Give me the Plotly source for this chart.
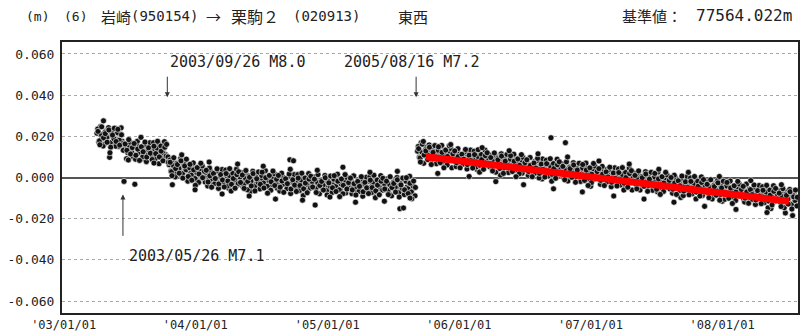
import pandas as pd
import plotly.graph_objects as go

# ---------------- data (east-west component) ----------------
# series A: metres, every 5 days
seg1_start = "2003-03-15"
seg1_values = [
    0.0215, 0.0172, 0.0248, 0.0189, 0.0161, 0.0226, 0.0197, 0.0098, 0.0205, 0.0172,
    0.0239, 0.0183, 0.0151, 0.0210, 0.0176, -0.0019,
    0.0148, 0.0121, 0.0165, 0.0134, 0.0102, -0.0033, 0.0157, 0.0119, 0.0138, 0.0091,
    0.0146, 0.0127, 0.0109, 0.0152, 0.0131, 0.0096, 0.0139, 0.0118, 0.0164, 0.0125,
    0.0103, 0.0141, 0.0112, 0.0079,
    0.0062, 0.0031, 0.0085, 0.0047, 0.0018, 0.0069, 0.0042, 0.0009, 0.0056, 0.0033,
    -0.0012, 0.0048, 0.0021, 0.0064, 0.0005, 0.0037, -0.0018, 0.0026, 0.0008,
    0.0041, -0.0022, 0.0013, -0.0006, 0.0029, -0.0035, 0.0002, -0.0014, 0.0036, -0.0041,
    -0.0003, 0.0017, -0.0028, 0.0009, -0.0052, -0.0011, 0.0024, -0.0019, 0.0004, -0.0037,
    -0.0008, 0.0015, -0.0046, -0.0013, 0.0011, -0.0024, -0.0068, -0.0002, -0.0031, 0.0019,
    -0.0017, -0.0039, -0.0006, 0.0021, -0.0027, -0.0012, -0.0045,
    -0.0009, -0.0034, 0.0007, -0.0021, -0.0052, -0.0016, -0.0038, 0.0003, -0.0029, -0.0011,
    -0.0047, 0.0086, -0.0023, 0.0081, -0.0036, -0.0014, -0.0058, -0.0027, -0.0005, -0.0041,
    -0.0019, -0.0063, -0.0032, -0.0008, -0.0045, -0.0134, -0.0026, -0.0039, -0.0012, -0.0054,
    -0.0031, -0.0017, -0.0048, -0.0024, -0.0066, -0.0035, -0.0009, -0.0043, -0.0028, -0.0057,
    -0.0019, -0.0038, -0.0075, -0.0029, -0.0046, -0.0014, -0.0052, -0.0033, -0.0061, -0.0022,
    -0.0044, -0.0027, -0.0069, -0.0036, -0.0051,
    -0.0018, -0.0047, -0.0032, -0.0071, -0.0025, -0.0054, -0.0039, -0.0013, -0.0062, -0.0044,
    -0.0028, -0.0076, -0.0035, -0.0051, -0.0021, -0.0067, -0.0042, -0.0152, -0.0058, -0.0148,
    -0.0083, -0.0046, -0.0024, -0.0061, -0.0039, -0.0049,
]

# series A, further daily solutions (millimetres)
seg1_b_start = "2003-03-17"
seg1_b_mm = [
    23.5, 17.8, 20.8, 15.3, 21.9, 19.5, 24.2, 16.9, 21.4, 18.8,
    15.2, 21.7, 18.1, 24.1, 16.5, 13.8, 9.1, 15.7, 17.1, 11.9,
    15.4, 8.9, 17.6, 12.3, 14.3, 10.1, 16.1, 7.7, 13.6, 16.9,
    11.0, 16.9, 9.2, 14.2, 6.7, 15.3, 12.2, 17.4, 10.4, 10.0,
    8.5, 2.8, 5.8, 0.3, 6.9, 4.5, 9.2, 1.9, 6.4, 3.8,
    -1.8, 4.7, 1.1, 7.1, -0.5, 2.3, -2.4, 4.2, 5.6, 0.4,
    2.4, -4.1, 4.6, -0.7, 1.3, -2.9, 3.1, -5.3, 0.6, 3.9,
    -2.3, 3.6, -4.1, 0.9, -6.6, 2.0, -1.1, 4.1, -2.9, 0.2,
    2.3, -3.4, -0.4, -5.9, 0.7, -1.7, 3.0, -4.3, 0.2, -2.4,
    -5.6, 0.9, -2.7, 3.3, -4.3, -1.5, -6.2, 0.4, 1.8, -3.4,
    -0.1, -6.6, 2.1, -3.2, -1.2, -5.4, 0.6, -7.8, -1.9, 1.4,
    -4.5, 1.4, -6.3, -1.3, -8.8, -0.2, -3.3, 1.9, -5.1, -2.0,
    0.3, -5.4, -2.4, -7.9, -1.3, -3.7, 1.0, -6.3, -1.8, -4.4,
    -7.3, -0.8, -4.4, 1.6, -6.0, -3.2, -7.9, -1.3, 0.1, -5.1,
    -1.4, -7.9, 0.8, -4.5, -2.5, -6.7, -0.7, -9.1, -3.2, 0.1,
    -5.5, 0.4, -7.3, -2.3, -9.8, -1.2, -4.3, 0.9, -6.1, -3.0,
    -0.7, -6.4, -3.4, -8.9, -2.3, -4.7, 0.0, -7.3, -2.8, -5.4,
    -8.3, -1.8, -5.4, 0.6, -7.0, -4.2, -8.9,
]

seg1_c_start = "2003-03-18"
seg1_c_mm = [
    22.4, 15.9, 24.6, 19.3, 21.3, 17.1, 23.1, 14.7, 20.6, 23.9,
    17.5, 23.4, 15.7, 20.7, 13.2, 16.3, 13.2, 18.4, 11.4, 14.5,
    16.5, 10.8, 13.8, 8.3, 14.9, 12.5, 17.2, 9.9, 14.4, 11.8,
    8.7, 15.2, 11.6, 17.6, 10.0, 12.8, 8.1, 14.7, 16.1, 7.4,
    7.4, 0.9, 9.6, 4.3, 6.3, 2.1, 8.1, -0.3, 5.6, 8.9,
    0.5, 6.4, -1.3, 3.7, -3.8, 4.8, 1.7, 6.9, -0.1, 3.0,
    3.5, -2.2, 0.8, -4.7, 1.9, -0.5, 4.2, -3.1, 1.4, -1.2,
    -4.6, 1.9, -1.7, 4.3, -3.3, -0.5, -5.2, 1.4, 2.8, -2.4,
    1.2, -5.3, 3.4, -1.9, 0.1, -4.1, 1.9, -6.5, -0.6, 2.7,
    -3.3, 2.6, -5.1, -0.1, -7.6, 1.0, -2.1, 3.1, -3.9, -0.8,
    1.0, -4.7, -1.7, -7.2, -0.6, -3.0, 1.7, -5.6, -1.1, -3.7,
    -6.8, -0.3, -3.9, 2.1, -5.5, -2.7, -7.4, -0.8, 0.6, -4.6,
    -0.8, -7.3, 1.4, -3.9, -1.9, -6.1, -0.1, -8.5, -2.6, 0.7,
    -5.0, 0.9, -6.8, -1.8, -9.3, -0.7, -3.8, 1.4, -5.6, -2.5,
    -0.3, -6.0, -3.0, -8.5, -1.9, -4.3, 0.4, -6.9, -2.4, -5.0,
    -7.8, -1.3, -4.9, 1.1, -6.5, -3.7, -8.4, -1.8, -0.4, -5.6,
    -1.8, -8.3, 0.4, -4.9, -2.9, -7.1, -1.1, -9.5, -3.6, -0.3,
    -6.0, -0.1, -7.8, -2.8, -10.3, -1.7, -4.8,
]

# series A, scattered solutions (date, millimetres)
seg1_scatter_dates = [
    "2003-04-02", "2003-04-20", "2003-06-10", "2003-07-15", "2003-08-20", "2003-10-10",
    "2003-11-05", "2003-12-12", "2004-01-20", "2004-02-25", "2004-04-08", "2004-05-10",
    "2004-06-18", "2004-07-22", "2004-09-01", "2004-10-05", "2004-11-15", "2004-12-20",
    "2005-01-25", "2005-03-01", "2005-04-10", "2005-05-20", "2005-06-25", "2005-07-30",
]
seg1_scatter_mm = [
    27.5, 12.0, 8.5, 19.5, 7.0, -3.5,
    11.0, -6.0, 7.5, -8.0, 6.5, -9.0,
    5.5, -10.5, 4.0, -11.0, 3.5, -9.5,
    5.0, -12.0, 2.5, -11.5, 3.0, -10.0,
]

# series B (after 2005/08/16): metres, every 5 days
seg2_start = "2005-08-20"
seg2_values = [
    0.0128, 0.0098, 0.0169, 0.0119, 0.0107, 0.0147, 0.0094, 0.0123, 0.0075, 0.0131,
    0.0099, 0.0125, 0.0091, 0.0114, 0.0072, 0.0132, 0.0106, 0.0088, 0.0116, 0.0047,
    0.0112, 0.0091, 0.0123, 0.0082, 0.0100, 0.0069, 0.0108, 0.0086, 0.0129, 0.0075,
    0.0088, 0.0055, 0.0100, 0.0039, 0.0106, 0.0083, 0.0094, 0.0069, 0.0110, 0.0077,
    0.0052, 0.0086, 0.0069, 0.0106, 0.0062, 0.0081, 0.0011, 0.0092, 0.0046, 0.0075,
    0.0074, 0.0044, 0.0087, 0.0065, 0.0053, 0.0093, 0.0040, 0.0069, 0.0021, 0.0077,
    0.0045, 0.0071, 0.0037, 0.0060, 0.0018, 0.0078, 0.0052, 0.0034, 0.0062, -0.0007,
    0.0058, 0.0037, 0.0069, 0.0028, 0.0193, 0.0015, 0.0054, 0.0032, 0.0075, 0.0021,
    0.0034, 0.0001, 0.0169, -0.0015, 0.0052, 0.0029, 0.0040, 0.0015, 0.0056, 0.0023,
    -0.0002, 0.0032, 0.0015, 0.0052, 0.0008, 0.0027, -0.0043, 0.0038, -0.0008, 0.0021,
    0.0020, -0.0010, 0.0033, 0.0011, -0.0001, 0.0039, -0.0014, 0.0015, -0.0033, 0.0023,
    -0.0009, 0.0017, -0.0017, 0.0006, -0.0036, 0.0024, -0.0002, -0.0020, 0.0008, -0.0061,
    0.0004, -0.0017, 0.0015, -0.0026, -0.0008, -0.0039, 0.0000, -0.0022, 0.0021, -0.0033,
    -0.0020, -0.0053, -0.0008, -0.0069, -0.0002, -0.0025, -0.0014, -0.0039, 0.0002, -0.0031,
    -0.0056, -0.0022, -0.0039, -0.0002, -0.0046, -0.0027, -0.0097, -0.0016, -0.0062, -0.0033,
    -0.0034, -0.0064, -0.0021, -0.0043, -0.0055, -0.0015, -0.0068, -0.0039, -0.0087, -0.0031,
    -0.0063, -0.0037, -0.0071, -0.0048, -0.0090, -0.0030, -0.0056, -0.0074, -0.0046, -0.0115,
    -0.0050, -0.0071, -0.0039, -0.0080, -0.0062, -0.0093, -0.0054, -0.0076, -0.0033, -0.0087,
    -0.0074, -0.0107, -0.0062, -0.0123, -0.0056, -0.0079, -0.0068, -0.0093, -0.0052, -0.0085,
    -0.0110, -0.0076, -0.0093, -0.0056, -0.0100, -0.0081, -0.0151, -0.0070, -0.0116, -0.0087,
    -0.0088, -0.0118, -0.0075, -0.0097, -0.0172, -0.0069, -0.0122, -0.0093, -0.0141, -0.0085,
    -0.0104,
]

seg2_b_start = "2005-08-22"
seg2_b_mm = [
    15.1, 9.4, 12.4, 6.9, 13.5, 11.1, 15.8, 8.5, 13.0, 10.4,
    6.7, 13.2, 9.6, 15.6, 8.0, 10.8, 6.1, 12.7, 14.1, 8.9,
    11.8, 5.3, 14.0, 8.7, 10.7, 6.5, 12.5, 4.1, 10.0, 13.3,
    6.9, 12.8, 5.1, 10.1, 2.6, 11.2, 8.1, 13.3, 6.3, 9.4,
    10.8, 5.1, 8.1, 2.6, 9.2, 6.8, 11.5, 4.2, 8.7, 6.1,
    2.4, 8.9, 5.3, 11.3, 3.7, 6.5, 1.8, 8.4, 9.8, 4.6,
    7.5, 1.0, 9.7, 4.4, 6.4, 2.2, 8.2, -0.2, 5.7, 9.0,
    2.5, 8.4, 0.7, 5.7, -1.8, 6.8, 3.7, 8.9, 1.9, 5.0,
    6.5, 0.8, 3.8, -1.7, 4.9, 2.5, 7.2, -0.1, 4.4, 1.8,
    -1.9, 4.6, 1.0, 7.0, -0.6, 2.2, -2.5, 4.1, 5.5, 0.3,
    3.2, -3.3, 5.4, 0.1, 2.1, -2.1, 3.9, -4.5, 1.4, 4.7,
    -1.8, 4.1, -3.6, 1.4, -6.1, 2.5, -0.6, 4.6, -2.4, 0.7,
    2.1, -3.6, -0.6, -6.1, 0.5, -1.9, 2.8, -4.5, 0.0, -2.6,
    -6.2, 0.3, -3.3, 2.7, -4.9, -2.1, -6.8, -0.2, 1.2, -4.0,
    -1.1, -7.6, 1.1, -4.2, -2.2, -6.4, -0.4, -8.8, -2.9, 0.4,
    -6.1, -0.2, -7.9, -2.9, -10.4, -1.8, -4.9, 0.3, -6.7, -3.6,
    -2.2, -7.9, -4.9, -10.4, -3.8, -6.2, -1.5, -8.8, -4.3, -6.9,
    -10.6, -4.1, -7.7, -1.7, -9.3, -6.5, -11.2, -4.6, -3.2, -8.4,
    -5.4, -11.9, -3.2, -8.5, -6.5, -10.7, -4.7, -13.1, -7.2, -3.9,
    -10.4, -4.5, -12.2, -7.2, -14.7, -6.1, -9.2, -4.0, -11.0, -7.9,
    -6.5, -12.2, -9.2, -14.7, -8.1, -10.5, -5.8, -13.1, -8.6, -11.2,
    -13.8,
]

seg2_c_start = "2005-08-23"
seg2_c_mm = [
    14.0, 7.5, 16.2, 10.9, 12.9, 8.7, 14.7, 6.3, 12.2, 15.5,
    9.0, 14.9, 7.2, 12.2, 4.7, 13.3, 10.2, 15.4, 8.4, 11.5,
    12.9, 7.2, 10.2, 4.7, 11.3, 8.9, 13.6, 6.3, 10.8, 8.2,
    4.6, 11.1, 7.5, 13.5, 5.9, 8.7, 4.0, 10.6, 12.0, 6.8,
    9.7, 3.2, 11.9, 6.6, 8.6, 4.4, 10.4, 2.0, 7.9, 11.2,
    4.7, 10.6, 2.9, 7.9, 0.4, 9.0, 5.9, 11.1, 4.1, 7.2,
    8.6, 2.9, 5.9, 0.4, 7.0, 4.6, 9.3, 2.0, 6.5, 3.9,
    0.2, 6.7, 3.1, 9.1, 1.5, 4.3, -0.4, 6.2, 7.6, 2.4,
    5.4, -1.1, 7.6, 2.3, 4.3, 0.1, 6.1, -2.3, 3.6, 6.9,
    0.4, 6.3, -1.4, 3.6, -3.9, 4.7, 1.6, 6.8, -0.2, 2.9,
    4.3, -1.4, 1.6, -3.9, 2.7, 0.3, 5.0, -2.3, 2.2, -0.4,
    -4.1, 2.4, -1.2, 4.8, -2.8, 0.0, -4.7, 1.9, 3.3, -1.9,
    1.0, -5.5, 3.2, -2.1, -0.1, -4.3, 1.7, -6.7, -0.8, 2.5,
    -3.9, 2.0, -5.7, -0.7, -8.2, 0.4, -2.7, 2.5, -4.5, -1.4,
    0.0, -5.7, -2.7, -8.2, -1.6, -4.0, 0.7, -6.6, -2.1, -4.7,
    -8.4, -1.9, -5.5, 0.5, -7.1, -4.3, -9.0, -2.4, -1.0, -6.2,
    -3.3, -9.8, -1.1, -6.4, -4.4, -8.6, -2.6, -11.0, -5.1, -1.8,
    -8.3, -2.4, -10.1, -5.1, -12.6, -4.0, -7.1, -1.9, -8.9, -5.8,
    -4.3, -10.0, -7.0, -12.5, -5.9, -8.3, -3.6, -10.9, -6.4, -9.0,
    -12.7, -6.2, -9.8, -3.8, -11.4, -8.6, -13.3, -6.7, -5.3, -10.5,
    -7.6, -14.1, -5.4, -10.7, -8.7, -12.9, -6.9, -15.3, -9.4, -6.1,
    -9.6,
]

# series B, scattered solutions (date, millimetres)
seg2_scatter_dates = [
    "2005-09-05", "2005-10-15", "2005-11-20", "2006-01-10", "2006-02-15", "2006-03-25",
    "2006-05-01", "2006-06-10", "2006-07-20", "2006-09-01", "2006-10-10", "2006-11-20",
    "2007-01-05", "2007-02-15", "2007-03-30", "2007-05-10", "2007-06-20", "2007-08-01",
    "2007-09-10", "2007-10-25", "2007-12-05", "2008-01-20", "2008-03-01", "2008-04-15",
    "2008-05-25", "2008-06-25",
]
seg2_scatter_mm = [
    17.5, 2.0, 16.0, 0.5, 14.5, -2.0,
    13.0, -3.5, 11.5, -5.5, 10.0, -7.0,
    8.0, -9.0, 6.5, -10.5, 4.0, -12.0,
    2.5, -14.0, 0.5, -15.5, -1.5, -17.0,
    -3.5, -18.5,
]

trend_dates = ["2005-09-12", "2008-06-15"]
trend_values = [0.0101, -0.0116]

x_tick_vals = ["2003-01-01", "2004-01-01", "2005-01-01", "2006-01-01", "2007-01-01", "2008-01-01"]
x_tick_text = ["'03/01/01", "'04/01/01", "'05/01/01", "'06/01/01", "'07/01/01", "'08/01/01"]
y_tick_vals = [0.06, 0.04, 0.02, 0.0, -0.02, -0.04, -0.06]
y_tick_text = ["0.060", "0.040", "0.020", "0.000", "-0.020", "-0.040", "-0.060"]

events = [
    {"date": "2003-09-26", "label": "2003/09/26 M8.0"},
    {"date": "2005-08-16", "label": "2005/08/16 M7.2"},
    {"date": "2003-05-26", "label": "2003/05/26 M7.1"},
]

# ---------------- layout geometry ----------------
W, H = 801, 333
ML, MR, MT, MB = 62, 1, 42, 18
PW, PH = W - ML - MR, H - MT - MB


def px(xp):
    return (xp - ML) / PW


def py(yp):
    return (H - MB - yp) / PH


def dates(start, n):
    return pd.date_range(start, periods=n, freq="5D")


def mm_to_m(vals):
    return [v / 1000 for v in vals]


point_sets = [
    (dates(seg1_start, len(seg1_values)), list(seg1_values)),
    (dates(seg1_b_start, len(seg1_b_mm)), mm_to_m(seg1_b_mm)),
    (dates(seg1_c_start, len(seg1_c_mm)), mm_to_m(seg1_c_mm)),
    (pd.to_datetime(seg1_scatter_dates), mm_to_m(seg1_scatter_mm)),
    (dates(seg2_start, len(seg2_values)), list(seg2_values)),
    (dates(seg2_b_start, len(seg2_b_mm)), mm_to_m(seg2_b_mm)),
    (dates(seg2_c_start, len(seg2_c_mm)), mm_to_m(seg2_c_mm)),
    (pd.to_datetime(seg2_scatter_dates), mm_to_m(seg2_scatter_mm)),
]

fig = go.Figure()
marker = dict(size=6, color="#111111", symbol="circle", line=dict(color="white", width=0.6))
for xs, ys in point_sets:
    fig.add_trace(go.Scatter(x=xs, y=ys, mode="markers", marker=marker,
                             showlegend=False, hoverinfo="skip"))
fig.add_trace(go.Scatter(x=trend_dates, y=trend_values, mode="lines",
                         line=dict(color="#ff0000", width=7), showlegend=False, hoverinfo="skip"))

mono = "DejaVu Sans Mono"
cjk = "Noto Sans CJK JP"
annotations = []

# arrows
arrow_cfg = [
    (events[0]["date"], 0.039, -22),
    (events[1]["date"], 0.039, -22),
    (events[2]["date"], -0.0082, 43),
]
for d, yv, ay in arrow_cfg:
    annotations.append(dict(x=d, y=yv, xref="x", yref="y", text="", showarrow=True,
                            ax=0, ay=ay, arrowhead=2, arrowsize=1, arrowwidth=1,
                            arrowcolor="#333"))

# event labels
label_pos = [(168, 62), (343, 62), (127, 258)]
for ev, (lx, ly) in zip(events, label_pos):
    annotations.append(dict(x=px(lx), y=py(ly), xref="paper", yref="paper", text=ev["label"],
                            showarrow=False, xanchor="left", yanchor="middle",
                            font=dict(family=mono, size=15, color="#222")))

# header pieces
header = [
    ("(m)", 24, mono, 13),
    ("(6)", 62, mono, 13),
    ("岩崎", 99, cjk, 15),
    ("(950154)", 129, mono, 14),
    ("→", 204, cjk, 15),
    ("栗駒２", 229, cjk, 16),
    ("(020913)", 292, mono, 14),
    ("東西", 397, cjk, 15),
]
for t, xx, fam, sz in header:
    annotations.append(dict(x=px(xx), y=py(16), xref="paper", yref="paper", text=t,
                            showarrow=False, xanchor="left", yanchor="middle",
                            font=dict(family=fam, size=sz, color="#222")))
annotations.append(dict(x=px(622), y=py(15), xref="paper", yref="paper", text="基準値：",
                        showarrow=False, xanchor="left", yanchor="middle",
                        font=dict(family=cjk, size=15, color="#222")))
annotations.append(dict(x=px(796), y=py(15), xref="paper", yref="paper", text="77564.022m",
                        showarrow=False, xanchor="right", yanchor="middle",
                        font=dict(family=mono, size=16, color="#222")))

fig.update_layout(
    width=W, height=H,
    margin=dict(l=ML, r=MR, t=MT, b=MB, pad=0),
    paper_bgcolor="white", plot_bgcolor="white",
    annotations=annotations,
)
fig.update_xaxes(
    type="date", range=["2002-12-08", "2008-07-10"],
    tickvals=x_tick_vals, ticktext=x_tick_text, ticklabelshift=-7,
    tickfont=dict(family=mono, size=12, color="#222"),
    showgrid=False, showline=True, linecolor="#222", linewidth=2, mirror=True,
    ticks="", zeroline=False,
)
fig.update_yaxes(
    range=[-0.0658, 0.0658],
    tickvals=y_tick_vals, ticktext=y_tick_text,
    tickfont=dict(family=mono, size=13, color="#222"),
    showgrid=True, gridcolor="#a8a8a8", griddash="dot", gridwidth=1,
    zeroline=True, zerolinecolor="#555", zerolinewidth=1.5,
    showline=True, linecolor="#222", linewidth=2, mirror=True,
    ticks="", ticklabelstandoff=3,
)

fig.write_html("out.html")
